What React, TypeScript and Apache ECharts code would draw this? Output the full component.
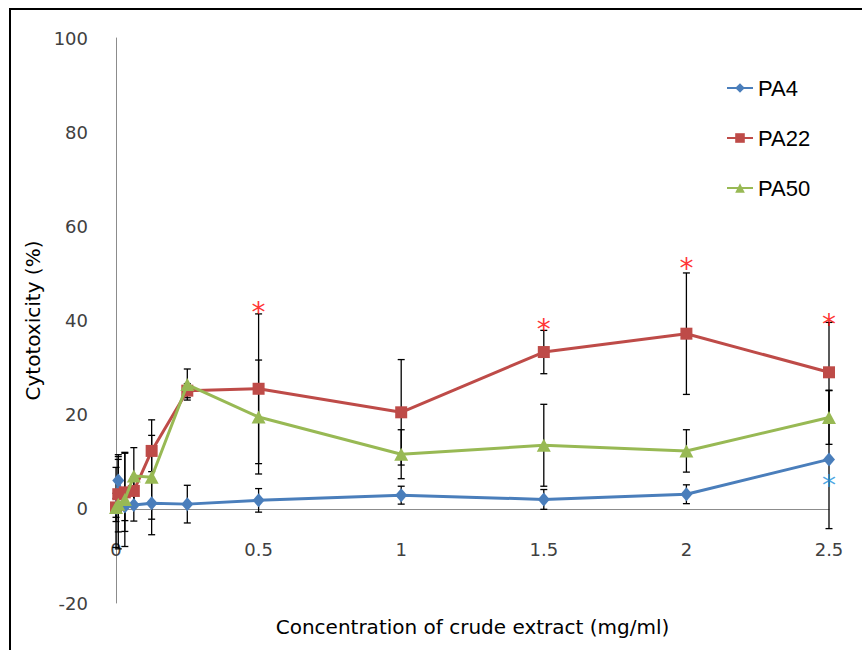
import React, { useEffect, useRef } from "react";
import * as echarts from "echarts";

// Concentration of crude extract (mg/ml)
const concentrations = [0, 0.008, 0.031, 0.0625, 0.125, 0.25, 0.5, 1, 1.5, 2, 2.5];

// Cytotoxicity (%) with standard deviations
const pa4 = [0.2, 6.0, 0.5, 0.8, 1.2, 1.0, 1.8, 2.9, 2.0, 3.1, 10.5];
const pa4Err = [2, 5.5, 3, 3.4, 6.7, 4, 2.5, 1.9, 2.1, 2.0, 14.7];
const pa22 = [0.3, 3.1, 3.5, 3.8, 12.3, 25.1, 25.5, 20.5, 33.3, 37.2, 29.0];
const pa22Err = [8.5, 8, 8.3, 3, 6.6, 1.5, 15.9, 11.2, 4.6, 12.9, 10.6];
const pa50 = [0.3, 1.0, 2.0, 7.0, 6.7, 26.4, 19.5, 11.6, 13.5, 12.3, 19.4];
const pa50Err = [3, 9.5, 10, 6, 8.9, 3.3, 12.1, 5.2, 8.7, 4.5, 5.7];

// significance markers
const pa22StarX = [0.5, 1.5, 2, 2.5];
const pa22StarY = [43.0, 39.4, 52.3, 40.4];
const pa4StarX = [2.5];
const pa4StarY = [6.3];

const xTicks = { min: 0, max: 2.5, interval: 0.5 };
const yTicks = { min: -20, max: 100, interval: 20 };

const seriesNames = ["PA4", "PA22", "PA50"];
const colors = ["#4A7EBB", "#BE4B48", "#98B954"];

export default function App() {
  const ref = useRef<HTMLDivElement>(null);

  useEffect(() => {
    document.body.style.margin = "0";
    const chart = echarts.init(ref.current!, null, { renderer: "svg" });

    const pts = (ys: number[]) => concentrations.map((x, i) => [x, ys[i]]);
    const errs = (ys: number[], es: number[]) =>
      concentrations.map((x, i) => [x, ys[i] - es[i], ys[i] + es[i]]);
    const stars = (xs: number[], ys: number[]) => xs.map((x, i) => [x, ys[i]]);

    const errData = [
      ...errs(pa4, pa4Err),
      ...errs(pa22, pa22Err),
      ...errs(pa50, pa50Err),
    ];

    const tickFont = { fontFamily: "DejaVu Sans", fontSize: 18, color: "#404040" };

    const starLabel = (color: string) => ({
      show: true,
      position: "inside",
      formatter: "*",
      fontFamily: "DejaVu Sans",
      fontSize: 28,
      color,
      offset: [0, 6],
    });

    const option: any = {
      animation: false,
      backgroundColor: "#ffffff",
      grid: { left: 116, right: 33, top: 38, bottom: 47, containLabel: false, outerBoundsMode: "none" },
      graphic: [
        {
          type: "rect",
          shape: { x: 10, y: 9, width: 900, height: 700 },
          style: { fill: "none", stroke: "#000", lineWidth: 2 },
          silent: true,
        },
      ],
      legend: {
        data: seriesNames,
        orient: "vertical",
        left: 721,
        top: 72,
        itemGap: 28,
        itemWidth: 26,
        itemHeight: 12,
        textStyle: { fontFamily: "Liberation Sans", fontSize: 22, color: "#000", lineHeight: 22 },
      },
      xAxis: {
        type: "value",
        min: xTicks.min,
        max: xTicks.max,
        interval: xTicks.interval,
        name: "Concentration of crude extract (mg/ml)",
        nameLocation: "middle",
        nameGap: 14,
        nameTextStyle: { fontFamily: "DejaVu Sans", fontSize: 20, color: "#000" },
        axisLine: { onZero: true, lineStyle: { color: "#8C8C8C", width: 1 } },
        axisTick: { show: false },
        splitLine: { show: false },
        axisLabel: { ...tickFont, margin: -63 },
      },
      yAxis: {
        type: "value",
        min: yTicks.min,
        max: yTicks.max,
        interval: yTicks.interval,
        name: "Cytotoxicity (%)",
        nameLocation: "middle",
        nameRotate: 90,
        nameGap: 70,
        nameTextStyle: { fontFamily: "DejaVu Sans", fontSize: 20, color: "#000" },
        axisLine: { show: true, onZero: false, lineStyle: { color: "#8C8C8C", width: 1 } },
        axisTick: { show: false },
        splitLine: { show: false },
        axisLabel: { ...tickFont, margin: 28 },
      },
      series: [
        {
          name: "errors",
          type: "custom",
          z: 1,
          clip: false,
          encode: { x: 0, y: [1, 2] },
          data: errData,
          renderItem: (params: any, api: any) => {
            const x = api.value(0);
            const lo = api.value(1);
            const hi = api.value(2);
            const top = api.coord([x, hi]);
            const bot = api.coord([x, lo]);
            const cap = 3.5;
            const style = { stroke: "#000", lineWidth: 1.3 };
            return {
              type: "group",
              children: [
                { type: "line", shape: { x1: top[0], y1: top[1], x2: bot[0], y2: bot[1] }, style },
                { type: "line", shape: { x1: top[0] - cap, y1: top[1], x2: top[0] + cap, y2: top[1] }, style },
                { type: "line", shape: { x1: bot[0] - cap, y1: bot[1], x2: bot[0] + cap, y2: bot[1] }, style },
              ],
            };
          },
        },
        {
          name: "PA4",
          type: "line",
          z: 3,
          data: pts(pa4),
          symbol: "diamond",
          symbolSize: [12, 14],
          lineStyle: { color: colors[0], width: 3 },
          itemStyle: { color: colors[0] },
        },
        {
          name: "PA22",
          type: "line",
          z: 3,
          data: pts(pa22),
          symbol: "rect",
          symbolSize: 12,
          lineStyle: { color: colors[1], width: 3 },
          itemStyle: { color: colors[1] },
        },
        {
          name: "PA50",
          type: "line",
          z: 4,
          data: pts(pa50),
          symbol: "triangle",
          symbolSize: [14, 13],
          lineStyle: { color: colors[2], width: 3 },
          itemStyle: { color: colors[2] },
        },
        {
          name: "sig22",
          type: "scatter",
          z: 5,
          data: stars(pa22StarX, pa22StarY),
          symbolSize: 2,
          itemStyle: { color: "rgba(0,0,0,0)" },
          label: starLabel("#FF0000"),
        },
        {
          name: "sig4",
          type: "scatter",
          z: 5,
          data: stars(pa4StarX, pa4StarY),
          symbolSize: 2,
          itemStyle: { color: "rgba(0,0,0,0)" },
          label: starLabel("#1E8FDC"),
        },
      ],
    };

    chart.setOption(option);
    return () => chart.dispose();
  }, []);

  return <div ref={ref} style={{ width: 862, height: 650 }} />;
}
